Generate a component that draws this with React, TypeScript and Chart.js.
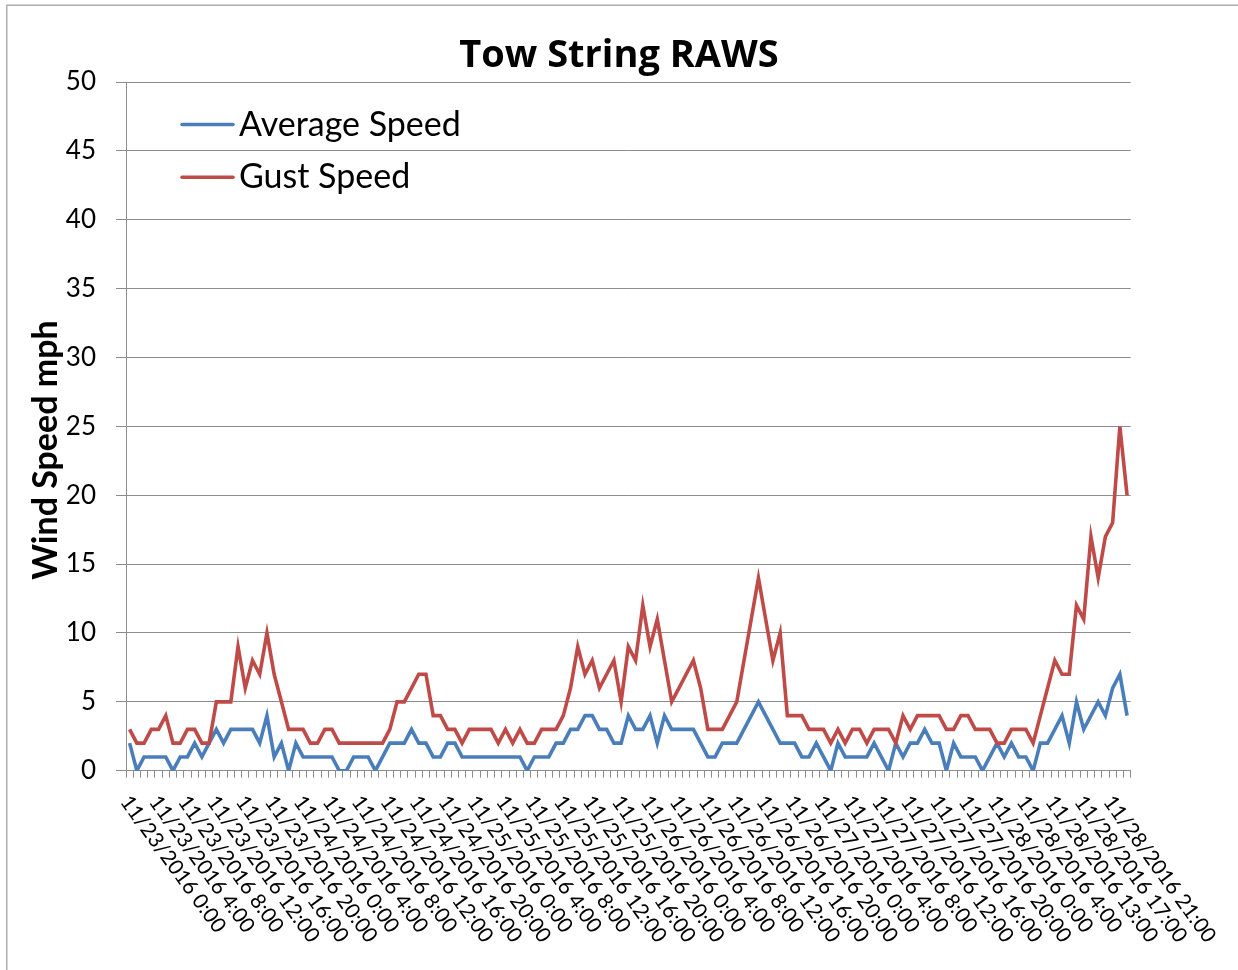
import React, { useEffect, useRef } from "react";
import { Chart, registerables } from "chart.js";

Chart.register(...registerables);

// ---- data ----
const FULL_DAYS = ["11/23/2016", "11/24/2016", "11/25/2016", "11/26/2016", "11/27/2016"];
const FULL_DAY_HOURS = [0, 1, 2, 3, 4, 5, 6, 7, 8, 9, 10, 11, 12, 13, 14, 15, 16, 17, 18, 19, 20, 21, 22, 23];
const LAST_DAY = "11/28/2016";
const LAST_DAY_HOURS = [0, 1, 2, 3, 4, 10, 11, 12, 13, 14, 15, 16, 17, 18, 19, 20, 21, 22, 23];

const categories: string[] = [
  ...FULL_DAYS.flatMap((d) => FULL_DAY_HOURS.map((h) => `${d} ${h}:00`)),
  ...LAST_DAY_HOURS.map((h) => `${LAST_DAY} ${h}:00`),
];

const averageSpeed = [
  2, 0, 1, 1, 1, 1, 0, 1, 1, 2,
  1, 2, 3, 2, 3, 3, 3, 3, 2, 4,
  1, 2, 0, 2, 1, 1, 1, 1, 1, 0,
  0, 1, 1, 1, 0, 1, 2, 2, 2, 3,
  2, 2, 1, 1, 2, 2, 1, 1, 1, 1,
  1, 1, 1, 1, 1, 0, 1, 1, 1, 2,
  2, 3, 3, 4, 4, 3, 3, 2, 2, 4,
  3, 3, 4, 2, 4, 3, 3, 3, 3, 2,
  1, 1, 2, 2, 2, 3, 4, 5, 4, 3,
  2, 2, 2, 1, 1, 2, 1, 0, 2, 1,
  1, 1, 1, 2, 1, 0, 2, 1, 2, 2,
  3, 2, 2, 0, 2, 1, 1, 1, 0, 1,
  2, 1, 2, 1, 1, 0, 2, 2, 3, 4,
  2, 5, 3, 4, 5, 4, 6, 7, 4,
];

const gustSpeed = [
  3, 2, 2, 3, 3, 4, 2, 2, 3, 3,
  2, 2, 5, 5, 5, 9, 6, 8, 7, 10,
  7, 5, 3, 3, 3, 2, 2, 3, 3, 2,
  2, 2, 2, 2, 2, 2, 3, 5, 5, 6,
  7, 7, 4, 4, 3, 3, 2, 3, 3, 3,
  3, 2, 3, 2, 3, 2, 2, 3, 3, 3,
  4, 6, 9, 7, 8, 6, 7, 8, 5, 9,
  8, 12, 9, 11, 8, 5, 6, 7, 8, 6,
  3, 3, 3, 4, 5, 8, 11, 14, 11, 8,
  10, 4, 4, 4, 3, 3, 3, 2, 3, 2,
  3, 3, 2, 3, 3, 3, 2, 4, 3, 4,
  4, 4, 4, 3, 3, 4, 4, 3, 3, 3,
  2, 2, 3, 3, 3, 2, 4, 6, 8, 7,
  7, 12, 11, 17, 14, 17, 18, 25, 20,
];

const SERIES_NAMES = ["Average Speed", "Gust Speed"];
const SERIES_COLORS = ["#4A7EBB", "#BE4B48"];
const TITLE = "Tow String RAWS";
const Y_TITLE = "Wind Speed mph";
const LABEL_EVERY = 4;

const FONT = "Lato";
const TITLE_FONT = "'Open Sans'";
const GRID = "#8C8C8C";

const W = 1238;
const H = 970;

const LABEL_ANGLE = (54 * Math.PI) / 180;
const LABEL_SIZE = 21;

const decorPlugin = {
  id: "decor",
  beforeDraw(chart: any) {
    const { ctx } = chart;
    ctx.save();
    ctx.fillStyle = "#fff";
    ctx.fillRect(0, 0, W, H);
    ctx.strokeStyle = "#ADADAD";
    ctx.lineWidth = 1.5;
    ctx.beginPath();
    ctx.moveTo(6.75, H + 5);
    ctx.lineTo(6.75, 5.25);
    ctx.lineTo(W + 5, 5.25);
    ctx.stroke();
    ctx.restore();
  },
  afterDraw(chart: any) {
    const { ctx } = chart;
    const xs = chart.scales.x;
    // x labels (rotated clockwise, starting at the category)
    ctx.save();
    ctx.fillStyle = "#000";
    ctx.font = `${LABEL_SIZE}px ${FONT}`;
    ctx.textAlign = "left";
    ctx.textBaseline = "alphabetic";
    const capH = LABEL_SIZE * 0.72;
    categories.forEach((lab, i) => {
      if (i % LABEL_EVERY !== 0) return;
      const x = xs.getPixelForValue(i);
      ctx.save();
      ctx.translate(x + 2 - capH * Math.sin(LABEL_ANGLE), 793 + capH * Math.cos(LABEL_ANGLE));
      ctx.rotate(LABEL_ANGLE);
      ctx.fillText(lab, 0, 0);
      ctx.restore();
    });
    ctx.restore();

    // y title
    ctx.save();
    ctx.fillStyle = "#000";
    ctx.font = `bold 34px ${FONT}`;
    ctx.textAlign = "center";
    ctx.textBaseline = "alphabetic";
    ctx.translate(57, 450);
    ctx.rotate(-Math.PI / 2);
    ctx.fillText(Y_TITLE, 0, 0);
    ctx.restore();

    // legend
    ctx.save();
    const rows = [
      { y: 124.5, base: 135.7 },
      { y: 177.3, base: 188.3 },
    ];
    chart.data.datasets.forEach((ds: any) => {
      const idx = SERIES_NAMES.indexOf(ds.label);
      const r = rows[idx];
      ctx.strokeStyle = ds.borderColor;
      ctx.lineWidth = 3.5;
      ctx.lineCap = "round";
      ctx.beginPath();
      ctx.moveTo(182, r.y);
      ctx.lineTo(233, r.y);
      ctx.stroke();
      ctx.fillStyle = "#000";
      ctx.font = `34px ${FONT}`;
      ctx.textAlign = "left";
      ctx.textBaseline = "alphabetic";
      ctx.fillText(ds.label, 239, r.base);
    });
    ctx.restore();
  },
};

export default function App() {
  const ref = useRef<HTMLCanvasElement | null>(null);

  useEffect(() => {
    let chart: Chart | null = null;
    let cancelled = false;
    const fonts = [
      `${LABEL_SIZE}px ${FONT}`,
      `26px ${FONT}`,
      `34px ${FONT}`,
      `bold 34px ${FONT}`,
      `bold 38px ${TITLE_FONT}`,
    ];
    const ready = (document as any).fonts
      ? Promise.all(fonts.map((f) => (document as any).fonts.load(f))).catch(() => null)
      : Promise.resolve(null);
    ready.then(() => {
      if (cancelled || !ref.current) return;
      chart = new Chart(ref.current, {
        type: "line",
        data: {
          labels: categories,
          datasets: [
            {
              label: SERIES_NAMES[0],
              data: averageSpeed,
              borderColor: SERIES_COLORS[0],
              backgroundColor: SERIES_COLORS[0],
              borderWidth: 3.6,
              pointRadius: 0,
              tension: 0,
              order: 1,
            },
            {
              label: SERIES_NAMES[1],
              data: gustSpeed,
              borderColor: SERIES_COLORS[1],
              backgroundColor: SERIES_COLORS[1],
              borderWidth: 3.6,
              pointRadius: 0,
              tension: 0,
              order: 0,
            },
          ],
        },
        options: {
          responsive: false,
          animation: false,
          events: [],
          layout: { padding: 0 },
          plugins: {
            legend: { display: false },
            tooltip: { enabled: false },
            title: {
              display: true,
              text: TITLE,
              color: "#000",
              font: { family: TITLE_FONT, size: 38, weight: "bold", lineHeight: 1.2 },
              padding: { top: 33.4, bottom: 3 },
            },
          },
          scales: {
            x: {
              type: "category",
              offset: true,
              grid: {
                offset: true,
                drawOnChartArea: false,
                drawTicks: true,
                tickLength: 7,
                color: GRID,
                lineWidth: 1,
              },
              border: { display: true, color: GRID, width: 1 },
              ticks: { display: false, autoSkip: false },
              afterFit: (s: any) => {
                s.height = H - 770.7;
              },
            },
            y: {
              min: 0,
              max: 50,
              ticks: {
                stepSize: 5,
                color: "#000",
                font: { family: FONT, size: 26 },
                padding: 20,
              },
              grid: { color: GRID, tickLength: 10, lineWidth: 1 },
              border: { display: true, color: GRID, width: 1 },
              afterFit: (s: any) => {
                s.width = 126;
              },
            },
            // empty right-hand margin axis, keeps the plot area where the reference has it
            margin: {
              type: "linear",
              position: "right",
              min: 0,
              max: 1,
              display: true,
              grid: { display: false, drawTicks: false },
              border: { display: false },
              ticks: { display: false },
              afterFit: (s: any) => {
                s.width = W - 1130.7;
              },
            },
          },
        },
        plugins: [decorPlugin],
      } as any);
    });
    return () => {
      cancelled = true;
      if (chart) chart.destroy();
    };
  }, []);

  return (
    <div style={{ position: "absolute", left: 0, top: 0, width: W, height: H, background: "#fff" }}>
      <canvas ref={ref} width={W} height={H} style={{ display: "block", width: W, height: H }} />
    </div>
  );
}
